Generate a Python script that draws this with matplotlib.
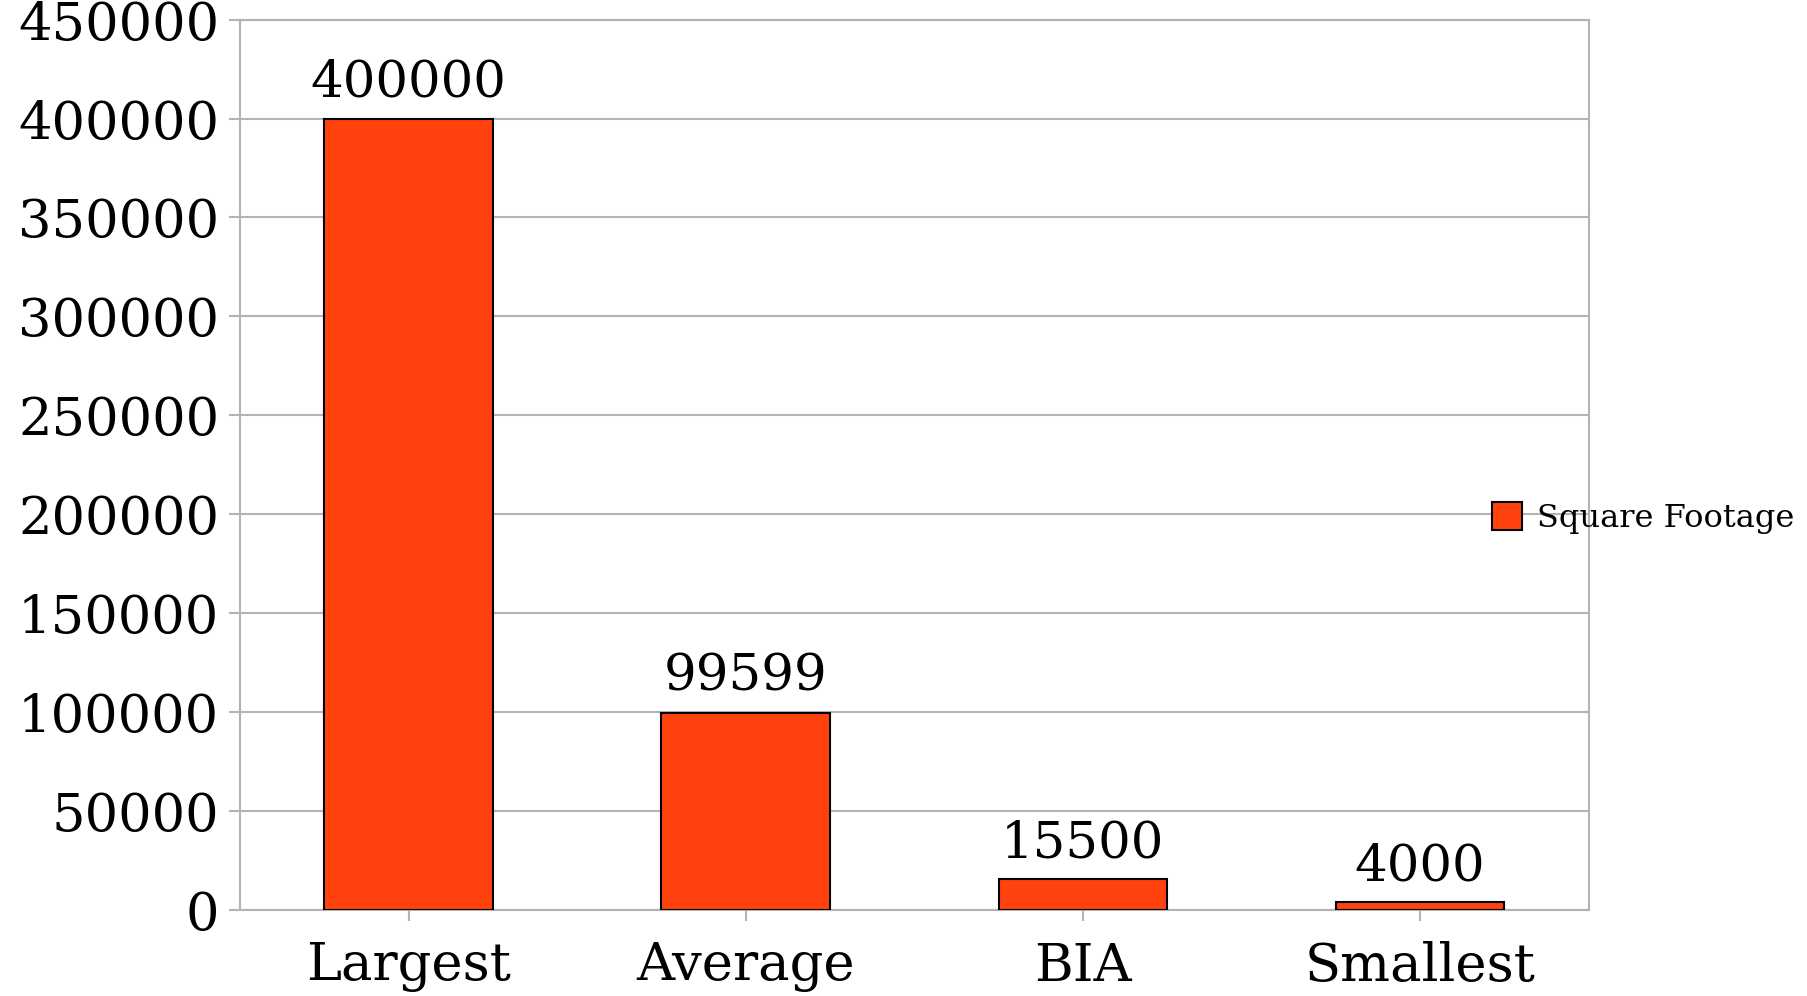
import numpy as np
import matplotlib
matplotlib.use("Agg")
import matplotlib.pyplot as plt

# data
categories = ["Largest", "Average", "BIA", "Smallest"]
square_footage = [400000, 99599, 15500, 4000]
y_ticks = np.arange(0, 450001, 50000)

plt.rcParams['font.family'] = ['DejaVu Serif']

bar_color = '#ff420e'
grid_color = '#b3b3b3'

fig = plt.figure(figsize=(18.08, 9.96), dpi=100)
ax = fig.add_axes([0.1327, 0.0863, 0.746, 0.894])

x = np.arange(len(categories))
bars = ax.bar(x, square_footage, width=0.5, color=bar_color, edgecolor='black',
              linewidth=1.5, label='Square Footage', zorder=3)

# value labels on top of each bar
for xi, val in zip(x, square_footage):
    ax.annotate(f"{val}", (xi, val), xytext=(0, 8), textcoords='offset points',
                ha='center', va='bottom', fontsize=37, zorder=4)

ax.set_xlim(-0.5, len(categories) - 0.5)
ax.set_ylim(0, 450000)
ax.set_yticks(y_ticks)
ax.set_yticklabels([str(v) for v in y_ticks])
ax.set_xticks(x)
ax.set_xticklabels(categories)

ax.yaxis.grid(True, color=grid_color, linewidth=1.5, zorder=0)
ax.set_axisbelow(True)
for s in ax.spines.values():
    s.set_color(grid_color)
    s.set_linewidth(1.5)

ax.tick_params(axis='y', length=8, width=1.5, color=grid_color, pad=7, labelsize=38)
ax.tick_params(axis='x', length=8, width=1.5, color=grid_color, pad=14, labelsize=38)

# legend sits over the right edge of the plot area, like the original
leg = fig.legend(handles=[bars], labels=['Square Footage'], loc='center left',
                 bbox_to_anchor=(1492 / 1808, 1 - 518 / 996),
                 bbox_transform=fig.transFigure, frameon=False,
                 fontsize=23, handlelength=0.95, handleheight=0.95,
                 handletextpad=0.45, borderpad=0, borderaxespad=0)
leg.set_zorder(5)

fig.savefig("out.png", dpi=100)
